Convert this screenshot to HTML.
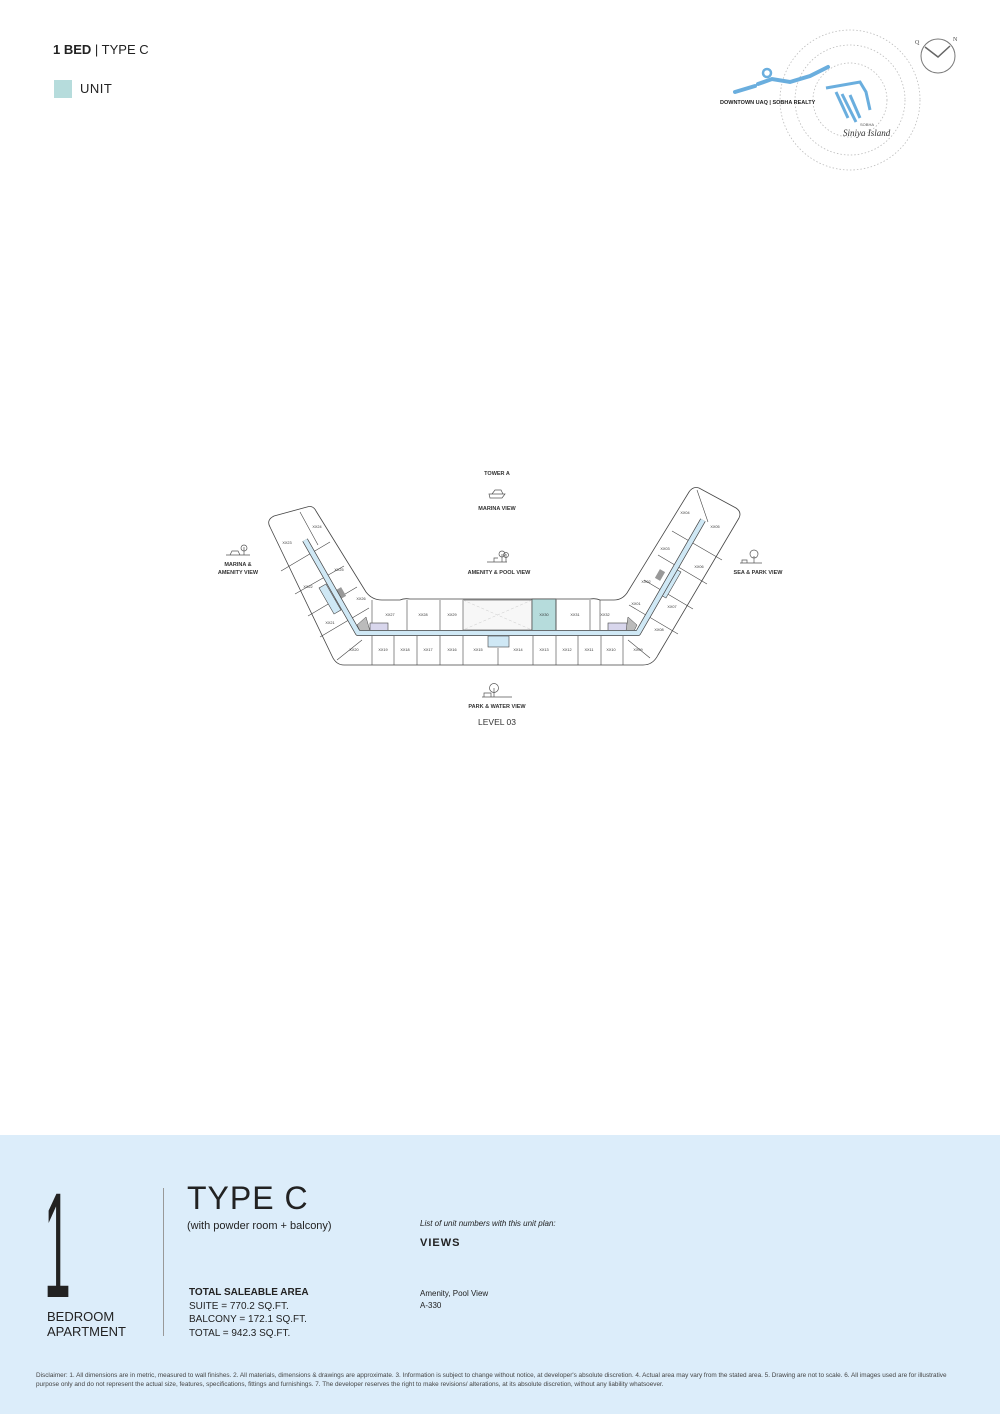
<!DOCTYPE html>
<html><head><meta charset="utf-8"><style>
body{margin:0;width:1000px;height:1414px;background:#fff;position:relative;font-family:"Liberation Sans",sans-serif;color:#222;overflow:hidden}
.a{position:absolute;white-space:nowrap}
</style></head><body>
<div class="a" style="left:53px;top:42px;font-size:13px"><b>1 BED</b> | TYPE C</div>
<div class="a" style="left:54px;top:80px;width:18px;height:18px;background:#b6dcdc"></div>
<div class="a" style="left:80px;top:81px;font-size:13px;letter-spacing:.5px">UNIT</div>

<svg class="a" style="left:0;top:0" width="1000" height="1130" viewBox="0 0 1000 1130">
<g fill="none" stroke="#bbb" stroke-width="0.8" stroke-dasharray="1.5 2">
<circle cx="850" cy="100" r="70"/><circle cx="850" cy="100" r="55"/><circle cx="850" cy="100" r="37"/>
</g>
<path d="M735 92 L755 86 M758 84 L772 79 L790 82 L810 76 L828 67" stroke="#6aaede" stroke-width="4" fill="none" stroke-linecap="round"/>
<circle cx="767" cy="73" r="4" fill="none" stroke="#6aaede" stroke-width="2.5"/>
<path d="M826 88 L860 82 L866 92 L870 110 M836 92 L848 118 M842 94 L856 122 M850 95 L860 118" stroke="#6aaede" stroke-width="3" fill="none"/>
<text x="720" y="104" font-size="5.5" font-weight="bold" fill="#222">DOWNTOWN UAQ | SOBHA REALTY</text>
<text x="860" y="126" font-size="4" fill="#555">SOBHA</text>
<text x="843" y="136" font-size="9" font-style="italic" font-family="Liberation Serif" fill="#333">Siniya Island</text>
<circle cx="938" cy="56" r="17" fill="none" stroke="#777" stroke-width="1"/>
<path d="M925 47 L938 57 L950 46" stroke="#666" stroke-width="1.5" fill="none"/>
<text x="915" y="44" font-size="6" font-family="Liberation Serif" fill="#444">Q</text>
<text x="953" y="41" font-size="6" font-family="Liberation Serif" fill="#444">N</text>

<g font-size="4.2" fill="#333" text-anchor="middle" font-weight="bold">
<text x="497" y="475" font-size="5.5">TOWER A</text>
<text x="497" y="510" font-size="5.5">MARINA VIEW</text>
<text x="499" y="574" font-size="5.5">AMENITY &amp; POOL VIEW</text>
<text x="238" y="566" font-size="5.5">MARINA &amp;</text>
<text x="238" y="574" font-size="5.5">AMENITY VIEW</text>
<text x="758" y="574" font-size="5.5">SEA &amp; PARK VIEW</text>
<text x="497" y="708" font-size="5.5">PARK &amp; WATER VIEW</text>
<text x="497" y="725" font-size="8.5" font-weight="normal">LEVEL 03</text>
</g>
<g fill="none" stroke="#555" stroke-width="0.7">
<path d="M489 494 h16 l-3 4 h-12 z M492 494 l3 -4 h6 l2 4"/>
<path d="M487 562 h20 M494 562 v-4 h4 M502 562 v-8 M506 562 v-8"/><circle cx="502" cy="554" r="3"/><circle cx="506" cy="555" r="2.5"/>
<path d="M226 555 h24 M230 555 l2 -4 h6 l2 4 M244 555 v-8"/><circle cx="244" cy="548" r="3"/>
<path d="M740 563 h22 M742 563 v-3 h5 v3 M754 563 v-7"/><circle cx="754" cy="554" r="4"/>
<path d="M482 697 h30 M484 697 v-4 h7 v4 M494 697 v-9"/><circle cx="494" cy="688" r="4.5"/>
</g>

<path d="M270 527 Q266 520 274 516 L307 507 Q313 505 316 511 L366 592 Q372 600 382 600 L400 600 Q404 598 410 599 L590 599 Q596 598 600 600 L614 600 Q622 600 627 593 L689 492 Q693 486 699 488 L736 508 Q742 512 739 518 L658 655 Q653 665 643 665 L344 665 Q336 665 332 656 Z" fill="#fff" stroke="#444" stroke-width="0.8"/>
<rect x="463" y="600" width="69" height="30" fill="#f7f7f7" stroke="#444" stroke-width="0.6"/>
<path d="M463 600 L532 630 M532 600 L463 630" stroke="#ccc" stroke-width="0.5" stroke-dasharray="3 2"/>
<rect x="532" y="599" width="24" height="32" fill="#b6dcdc" stroke="#444" stroke-width="0.7"/>
<g stroke="#444" stroke-width="0.6">
<path d="M372 600 v31 M407 600 v31 M440 600 v31 M556 600 v31 M590 600 v31 M600 600 v31"/>
<path d="M372 636 v29 M394 636 v29 M417 636 v29 M440 636 v29 M463 636 v29 M498 648 v17 M533 636 v29 M556 636 v29 M578 636 v29 M601 636 v29 M623 636 v29"/>
<path d="M281 571 L330 542 M295 594 L344 566 M308 616 L357 587 M320 637 L369 608 M337 660 L362 640"/>
<path d="M678 634 L629 605 M693 609 L644 580 M707 584 L658 555 M722 560 L672 531 M650 658 L628 640"/>
<path d="M300 512 L318 545 M697 490 L708 522"/>
</g>
<rect x="370" y="623" width="18" height="9" fill="#d8d6ec" stroke="#444" stroke-width="0.6"/>
<rect x="608" y="623" width="19" height="9" fill="#d8d6ec" stroke="#444" stroke-width="0.6"/>
<path d="M357 625 L366 617 L370 631 L360 631 Z" fill="#bbb" stroke="#444" stroke-width="0.5"/>
<path d="M628 617 L637 625 L634 631 L626 631 Z" fill="#bbb" stroke="#444" stroke-width="0.5"/>
<rect x="338" y="588" width="6" height="10" fill="#999" transform="rotate(-30 341 593)"/>
<rect x="657" y="570" width="6" height="10" fill="#999" transform="rotate(30 660 575)"/>
<rect x="488" y="636" width="21" height="11" fill="#cfe8f5" stroke="#444" stroke-width="0.6"/>
<rect x="326" y="584" width="8" height="30" fill="#cfe8f5" stroke="#444" stroke-width="0.6" transform="rotate(-30 330 599)"/>
<rect x="666" y="568" width="8" height="30" fill="#cfe8f5" stroke="#444" stroke-width="0.6" transform="rotate(30 670 583)"/>
<path d="M305 540 L358 633 L638 633 L703 520" fill="none" stroke="#444" stroke-width="6" stroke-linejoin="round"/>
<path d="M305 540 L358 633 L638 633 L703 520" fill="none" stroke="#cfe8f5" stroke-width="4.6" stroke-linejoin="round"/>
<g font-size="3.8" fill="#333" text-anchor="middle">
<text x="317" y="528">XX24</text><text x="287" y="544">XX23</text><text x="339" y="571">XX25</text><text x="308" y="588">XX22</text><text x="361" y="600">XX26</text><text x="330" y="624">XX21</text><text x="354" y="651">XX20</text>
<text x="685" y="514">XX04</text><text x="715" y="528">XX05</text><text x="665" y="550">XX03</text><text x="699" y="568">XX06</text><text x="646" y="583">XX02</text><text x="636" y="605">XX01</text><text x="672" y="608">XX07</text><text x="659" y="631">XX08</text>
<text x="390" y="616">XX27</text><text x="423" y="616">XX28</text><text x="452" y="616">XX29</text><text x="544" y="616">XX30</text><text x="575" y="616">XX31</text><text x="605" y="616">XX32</text>
<text x="383" y="651">XX19</text><text x="405" y="651">XX18</text><text x="428" y="651">XX17</text><text x="452" y="651">XX16</text><text x="478" y="651">XX15</text><text x="518" y="651">XX14</text><text x="544" y="651">XX13</text><text x="567" y="651">XX12</text><text x="589" y="651">XX11</text><text x="611" y="651">XX10</text><text x="638" y="651">XX09</text>
</g>
</svg>

<div class="a" style="left:0;top:1135px;width:1000px;height:279px;background:#dcedfa"></div>
<svg class="a" style="left:44px;top:1185px" width="50" height="120"><text x="0" y="112" font-size="150" font-family="Liberation Sans" fill="#222" transform="scale(0.32,1)">1</text></svg>
<div class="a" style="left:163px;top:1188px;width:1px;height:148px;background:#999"></div>
<div class="a" style="left:47px;top:1309px;font-size:13px;line-height:15px">BEDROOM<br>APARTMENT</div>
<div class="a" style="left:187px;top:1180px;font-size:32px;letter-spacing:1px">TYPE C</div>
<div class="a" style="left:187px;top:1220px;font-size:11px">(with powder room + balcony)</div>
<div class="a" style="left:189px;top:1286px;font-size:10px;line-height:13.5px"><b>TOTAL SALEABLE AREA</b><br>SUITE = 770.2 SQ.FT.<br>BALCONY = 172.1 SQ.FT.<br>TOTAL = 942.3 SQ.FT.</div>
<div class="a" style="left:420px;top:1219px;font-size:8px;font-style:italic">List of unit numbers with this unit plan:</div>
<div class="a" style="left:420px;top:1237px;font-size:11px;font-weight:bold;letter-spacing:1px">VIEWS</div>
<div class="a" style="left:420px;top:1288px;font-size:8px;line-height:12px">Amenity, Pool View<br>A-330</div>
<div class="a" style="left:36px;top:1372px;font-size:6.4px;line-height:8.5px;color:#444;white-space:normal;width:915px">Disclaimer: 1. All dimensions are in metric, measured to wall finishes. 2. All materials, dimensions &amp; drawings are approximate. 3. Information is subject to change without notice, at developer's absolute discretion. 4. Actual area may vary from the stated area. 5. Drawing are not to scale. 6. All images used are for illustrative purpose only and do not represent the actual size, features, specifications, fittings and furnishings. 7. The developer reserves the right to make revisions/ alterations, at its absolute discretion, without any liability whatsoever.</div>
</body></html>
